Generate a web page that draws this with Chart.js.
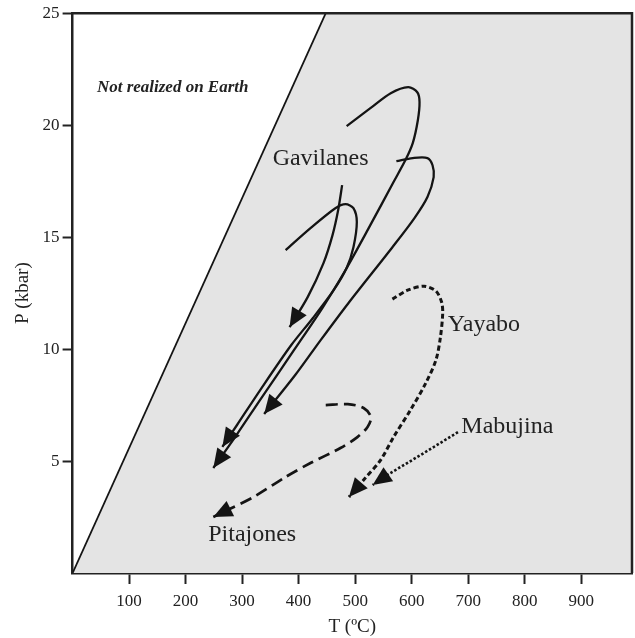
<!DOCTYPE html>
<html>
<head>
<meta charset="utf-8">
<script src="https://cdn.jsdelivr.net/npm/chart.js@4.4.1/dist/chart.umd.min.js"></script>
<style>
  html, body { margin: 0; padding: 0; background: #fff; }
  #wrap { width: 635px; height: 638px; }
</style>
</head>
<body>
<div id="wrap"><canvas id="ptChart"></canvas></div>
<script>
const INK = '#141414';
const FIELD = '#e4e4e4';
const SERIF = "'Liberation Serif', 'Times New Roman', serif";

const T_MAX = 990;
const P_MAX = 25;
const X_TICKS = [100, 200, 300, 400, 500, 600, 700, 800, 900];
const Y_TICKS = [5, 10, 15, 20, 25];

// limit of geothermal gradients
const BOUND_T = [0, 448];
const BOUND_P = [0, 25];

// Gavilanes paths (solid)
const GAV_A_T = [485, 527, 563, 594, 610, 614, 611, 602, 589, 568, 524, 483, 442, 392, 334, 290, 249];
const GAV_A_P = [19.96, 20.76, 21.43, 21.70, 21.47, 21.03, 20.22, 19.20, 18.44, 17.46, 15.40, 13.53, 11.83, 9.96, 7.81, 6.16, 4.69];
const GAV_B_T = [573, 602, 628, 637, 639, 628, 605, 566, 488, 439, 394, 339];
const GAV_B_P = [18.39, 18.53, 18.53, 18.21, 17.68, 16.79, 15.85, 14.55, 12.05, 10.40, 8.84, 7.10];
const GAV_C_T = [477, 470, 460, 444, 416, 384];
const GAV_C_P = [17.32, 16.21, 15.09, 13.84, 12.32, 10.98];
const GAV_D_T = [377, 421, 465, 483, 497, 503, 497, 485, 462, 425, 387, 332, 291, 265];
const GAV_D_P = [14.42, 15.40, 16.29, 16.47, 16.29, 15.67, 14.55, 13.62, 12.63, 11.38, 10.18, 8.17, 6.61, 5.63];

// Pitajones (dashed)
const PIT_T = [448, 487, 515, 528, 522, 504, 474, 421, 377, 320, 274, 249];
const PIT_P = [7.50, 7.54, 7.37, 6.96, 6.52, 6.07, 5.58, 4.91, 4.29, 3.39, 2.81, 2.50];

// Yayabo (short dashes)
const YAY_T = [566, 593, 622, 643, 653, 655, 651, 643, 625, 598, 568, 545, 518, 489];
const YAY_P = [12.23, 12.63, 12.81, 12.59, 12.10, 11.61, 10.54, 9.51, 8.48, 7.28, 6.07, 5.04, 4.24, 3.39];

// Mabujina (dotted leader)
const MAB_T = [682, 616, 557, 531];
const MAB_P = [6.29, 5.27, 4.38, 3.93];

const LABEL_TEXT = ['Not realized on Earth', 'Gavilanes', 'Yayabo', 'Mabujina', 'Pitajones'];
const LABEL_T = [43, 354, 664, 688, 240];
const LABEL_P = [21.46, 18.21, 10.82, 6.24, 1.43];

function pts(ts, ps) {
    return ts.map((t, i) => ({x: t, y: ps[i]}));
}

function path(ts, ps, extra) {
    return Object.assign({
        data: pts(ts, ps),
        borderColor: INK,
        borderWidth: 2.3,
        pointRadius: 0,
        tension: 0.3,
        fill: false,
        arrow: true,
    }, extra);
}

const arrowHeads = {
    id: 'arrowHeads',
    afterDatasetsDraw(chart) {
        const ctx = chart.ctx;
        chart.data.datasets.forEach((ds, i) => {
            if (!ds.arrow) return;
            const p = chart.getDatasetMeta(i).data;
            const tip = p[p.length - 1], prev = p[p.length - 2];
            const a = Math.atan2(tip.y - prev.y, tip.x - prev.x);
            ctx.save();
            ctx.translate(tip.x, tip.y);
            ctx.rotate(a);
            ctx.beginPath();
            ctx.moveTo(0, 0);
            ctx.lineTo(-19, -8.5);
            ctx.lineTo(-19, 8.5);
            ctx.closePath();
            ctx.fillStyle = INK;
            ctx.fill();
            ctx.restore();
        });
    }
};

const labels = {
    id: 'labels',
    afterDatasetsDraw(chart) {
        const ctx = chart.ctx;
        const xs = chart.scales.x, ys = chart.scales.y;
        ctx.save();
        ctx.fillStyle = '#222';
        ctx.textAlign = 'left';
        ctx.textBaseline = 'alphabetic';
        LABEL_TEXT.forEach((txt, i) => {
            ctx.font = i === 0 ? 'italic bold 17px ' + SERIF : '24px ' + SERIF;
            ctx.fillText(txt, xs.getPixelForValue(LABEL_T[i]), ys.getPixelForValue(LABEL_P[i]));
        });
        ctx.restore();
    }
};

const frame = {
    id: 'frame',
    afterDraw(chart) {
        const {ctx, chartArea: a} = chart;
        ctx.save();
        ctx.strokeStyle = '#222';
        ctx.lineWidth = 2.5;
        ctx.beginPath();
        ctx.moveTo(a.left, a.top);
        ctx.lineTo(a.right, a.top);
        ctx.lineTo(a.right, a.bottom);
        ctx.stroke();
        ctx.restore();
    }
};

let canvas = document.getElementById('ptChart');
let config = {
    type: 'line',
    data: {
        datasets: [
            path(GAV_A_T, GAV_A_P),
            path(GAV_B_T, GAV_B_P),
            path(GAV_C_T, GAV_C_P),
            path(GAV_D_T, GAV_D_P),
            path(PIT_T, PIT_P, {borderDash: [12, 6], borderWidth: 2.7}),
            path(YAY_T, YAY_P, {borderDash: [5, 3], borderWidth: 3}),
            path(MAB_T, MAB_P, {borderDash: [2.5, 2], borderWidth: 2.6, tension: 0}),
            {
                data: pts(BOUND_T, BOUND_P),
                borderColor: INK,
                borderWidth: 1.8,
                pointRadius: 0,
                fill: false,
            },
            {
                data: pts(BOUND_T.concat([T_MAX, T_MAX]), BOUND_P.concat([P_MAX, 0])),
                borderWidth: 0,
                borderColor: 'transparent',
                backgroundColor: FIELD,
                pointRadius: 0,
                fill: 'start',
                order: 10,
            },
        ],
    },
    options: {
        responsive: true,
        maintainAspectRatio: false,
        animation: false,
        layout: {padding: {top: 13, right: 3, left: 0, bottom: 0}},
        plugins: {legend: {display: false}, tooltip: {enabled: false}},
        scales: {
            x: {
                type: 'linear',
                min: 0,
                max: T_MAX,
                afterBuildTicks: s => { s.ticks = X_TICKS.map(v => ({value: v})); },
                afterFit: s => { s.height = 65; },
                ticks: {
                    color: '#222',
                    padding: 7,
                    maxRotation: 0,
                    font: {family: SERIF, size: 17},
                },
                grid: {drawOnChartArea: false, tickLength: 11, tickColor: '#222', tickWidth: 2},
                border: {color: '#222', width: 2.5},
                title: {
                    display: true,
                    text: 'T (ºC)',
                    color: '#222',
                    font: {family: SERIF, size: 19},
                    padding: {top: 0, bottom: 0},
                },
            },
            y: {
                type: 'linear',
                min: 0,
                max: P_MAX,
                afterBuildTicks: s => { s.ticks = Y_TICKS.map(v => ({value: v})); },
                afterFit: s => { s.width = 72.6; },
                ticks: {
                    color: '#222',
                    padding: 3,
                    font: {family: SERIF, size: 17},
                },
                grid: {drawOnChartArea: false, tickLength: 10, tickColor: '#222', tickWidth: 2},
                border: {color: '#222', width: 2.5},
                title: {
                    display: true,
                    text: 'P (kbar)',
                    color: '#222',
                    font: {family: SERIF, size: 19},
                    padding: {top: 12, bottom: 0},
                },
            },
        },
    },
    plugins: [arrowHeads, labels, frame],
};
let chart = new Chart(canvas, config);
</script>
</body>
</html>
